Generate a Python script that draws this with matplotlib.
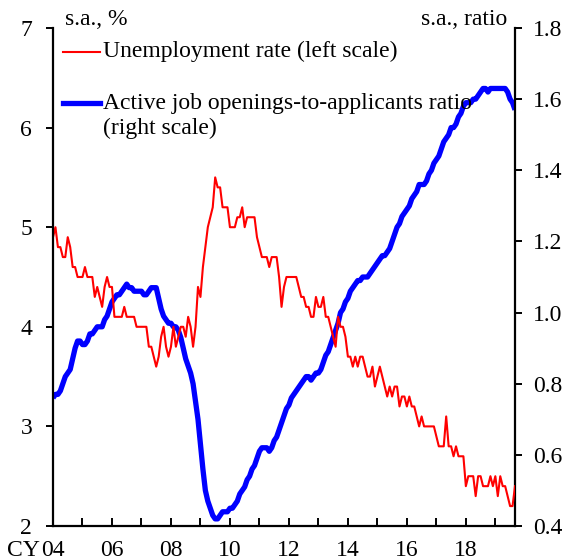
import matplotlib
matplotlib.use('Agg')
import matplotlib.pyplot as plt
import numpy as np
from matplotlib.lines import Line2D
from matplotlib.ticker import FormatStrFormatter

plt.rcParams['font.family'] = ['Liberation Serif', 'DejaVu Serif']

# Monthly data, Jan 2004 - Sep 2019
start_year = 2004
unemployment = [
    4.9, 5.0, 4.8, 4.8, 4.7, 4.7, 4.9, 4.8, 4.6, 4.6, 4.5, 4.5,   # 2004
    4.5, 4.6, 4.5, 4.5, 4.5, 4.3, 4.4, 4.3, 4.2, 4.4, 4.5, 4.4,   # 2005
    4.4, 4.1, 4.1, 4.1, 4.1, 4.2, 4.1, 4.1, 4.1, 4.1, 4.0, 4.0,   # 2006
    4.0, 4.0, 4.0, 3.8, 3.8, 3.7, 3.6, 3.7, 3.9, 4.0, 3.8, 3.7,   # 2007
    3.8, 4.0, 3.8, 3.9, 4.0, 4.0, 3.9, 4.1, 4.0, 3.8, 4.0, 4.4,   # 2008
    4.3, 4.6, 4.8, 5.0, 5.1, 5.2, 5.5, 5.4, 5.4, 5.2, 5.2, 5.2,   # 2009
    5.0, 5.0, 5.0, 5.1, 5.1, 5.2, 5.0, 5.1, 5.1, 5.1, 5.1, 4.9,   # 2010
    4.8, 4.7, 4.7, 4.7, 4.6, 4.7, 4.7, 4.7, 4.5, 4.2, 4.4, 4.5,   # 2011
    4.5, 4.5, 4.5, 4.5, 4.4, 4.3, 4.3, 4.2, 4.2, 4.1, 4.1, 4.3,   # 2012
    4.2, 4.2, 4.3, 4.1, 4.1, 4.0, 3.9, 3.8, 4.1, 4.0, 4.0, 3.9,   # 2013
    3.7, 3.7, 3.6, 3.7, 3.6, 3.7, 3.7, 3.6, 3.5, 3.5, 3.6, 3.4,   # 2014
    3.5, 3.6, 3.5, 3.4, 3.3, 3.4, 3.3, 3.4, 3.4, 3.2, 3.3, 3.3,   # 2015
    3.2, 3.3, 3.2, 3.2, 3.1, 3.0, 3.1, 3.0, 3.0, 3.0, 3.0, 3.0,   # 2016
    2.9, 2.8, 2.8, 2.8, 3.1, 2.8, 2.8, 2.7, 2.8, 2.7, 2.7, 2.7,   # 2017
    2.4, 2.5, 2.5, 2.5, 2.3, 2.5, 2.5, 2.4, 2.4, 2.4, 2.5, 2.4,   # 2018
    2.5, 2.3, 2.5, 2.4, 2.4, 2.3, 2.2, 2.2, 2.4,                  # 2019
]
job_ratio = [
    0.76, 0.77, 0.77, 0.78, 0.80, 0.82, 0.83, 0.84, 0.87, 0.90, 0.92, 0.92,  # 2004
    0.91, 0.91, 0.92, 0.94, 0.94, 0.95, 0.96, 0.96, 0.96, 0.98, 0.99, 1.01,  # 2005
    1.03, 1.04, 1.05, 1.05, 1.06, 1.07, 1.08, 1.07, 1.07, 1.06, 1.06, 1.06,  # 2006
    1.06, 1.05, 1.05, 1.06, 1.07, 1.07, 1.07, 1.04, 1.01, 0.99, 0.98, 0.97,  # 2007
    0.97, 0.96, 0.96, 0.95, 0.93, 0.90, 0.87, 0.85, 0.83, 0.80, 0.75, 0.70,  # 2008
    0.63, 0.56, 0.50, 0.47, 0.45, 0.43, 0.42, 0.42, 0.43, 0.44, 0.44, 0.44,  # 2009
    0.45, 0.45, 0.46, 0.47, 0.49, 0.50, 0.51, 0.53, 0.54, 0.56, 0.57, 0.59,  # 2010
    0.61, 0.62, 0.62, 0.62, 0.61, 0.62, 0.64, 0.65, 0.67, 0.69, 0.71, 0.73,  # 2011
    0.74, 0.76, 0.77, 0.78, 0.79, 0.80, 0.81, 0.82, 0.82, 0.81, 0.82, 0.83,  # 2012
    0.83, 0.84, 0.86, 0.88, 0.89, 0.91, 0.93, 0.95, 0.97, 1.00, 1.01, 1.03,  # 2013
    1.04, 1.06, 1.07, 1.08, 1.09, 1.09, 1.10, 1.10, 1.10, 1.11, 1.12, 1.13,  # 2014
    1.14, 1.15, 1.16, 1.16, 1.17, 1.18, 1.20, 1.22, 1.24, 1.25, 1.27, 1.28,  # 2015
    1.29, 1.30, 1.32, 1.33, 1.34, 1.36, 1.36, 1.36, 1.37, 1.39, 1.40, 1.42,  # 2016
    1.43, 1.44, 1.46, 1.48, 1.49, 1.50, 1.52, 1.52, 1.53, 1.55, 1.56, 1.58,  # 2017
    1.59, 1.59, 1.59, 1.60, 1.60, 1.61, 1.62, 1.63, 1.63, 1.62, 1.63, 1.63,  # 2018
    1.63, 1.63, 1.63, 1.63, 1.63, 1.62, 1.60, 1.59, 1.57,                    # 2019
]
tick_years = list(range(2004, 2020))
tick_labels = [f"{y % 100:02d}" if (y - 2004) % 2 == 0 else "" for y in tick_years]
left_ticks = [2, 3, 4, 5, 6, 7]
right_ticks = [0.4, 0.6, 0.8, 1.0, 1.2, 1.4, 1.6, 1.8]

n = len(unemployment)
x = start_year + np.arange(n) / 12.0

FS = 17
RED_LW = 1.5
BLUE_LW = 3.8
fig = plt.figure(figsize=(5.65, 5.60), dpi=100)
ax = fig.add_axes([53/565, 34/560, 462/565, 498/560])
ax2 = ax.twinx()
ax.set_zorder(ax2.get_zorder() + 1)
ax.patch.set_visible(False)

ax.plot(x, unemployment, color='#ff0000', lw=RED_LW)
ax2.plot(x, job_ratio, color='#0000ff', lw=BLUE_LW, solid_joinstyle='round', solid_capstyle='butt')

ax.set_xlim(start_year, x[-1])
ax.set_ylim(2, 7)
ax2.set_ylim(0.4, 1.8)
ax.set_yticks(left_ticks)
ax2.set_yticks(right_ticks)
ax2.yaxis.set_major_formatter(FormatStrFormatter('%.1f'))
ax.set_xticks(tick_years)
ax.set_xticklabels(tick_labels)

for s in ['top', 'right']:
    ax.spines[s].set_visible(False)
for s in ['top', 'left', 'bottom']:
    ax2.spines[s].set_visible(False)
for s in ['left', 'bottom']:
    ax.spines[s].set_linewidth(1.6)
ax2.spines['right'].set_linewidth(1.6)

ax.tick_params(axis='y', direction='out', length=5, width=1.4, labelsize=FS, pad=10)
ax.tick_params(axis='x', direction='in', length=6, width=1.4, labelsize=FS, pad=10)
ax2.tick_params(axis='y', direction='out', length=5, width=1.4, labelsize=FS, pad=8)

ax.text(0.026, 1.006, 's.a., %', transform=ax.transAxes, ha='left', va='baseline', fontsize=FS)
ax.text(0.983, 1.006, 's.a., ratio', transform=ax.transAxes, ha='right', va='baseline', fontsize=FS)

# legend keys
ax.add_line(Line2D([0.022, 0.102], [0.952, 0.952], transform=ax.transAxes, color='#ff0000', lw=RED_LW))
ax.text(0.108, 0.952, 'Unemployment rate (left scale)', transform=ax.transAxes, va='center', fontsize=FS)
ax.add_line(Line2D([0.022, 0.102], [0.849, 0.849], transform=ax.transAxes, color='#0000ff', lw=BLUE_LW))
ax.text(0.108, 0.849, 'Active job openings-to-applicants ratio', transform=ax.transAxes, va='center', fontsize=FS)
ax.text(0.108, 0.799, '(right scale)', transform=ax.transAxes, va='center', fontsize=FS)

ax.text(-0.063, -0.029, 'CY', transform=ax.transAxes, ha='center', va='top', fontsize=FS)

fig.savefig('out.png', dpi=100)
